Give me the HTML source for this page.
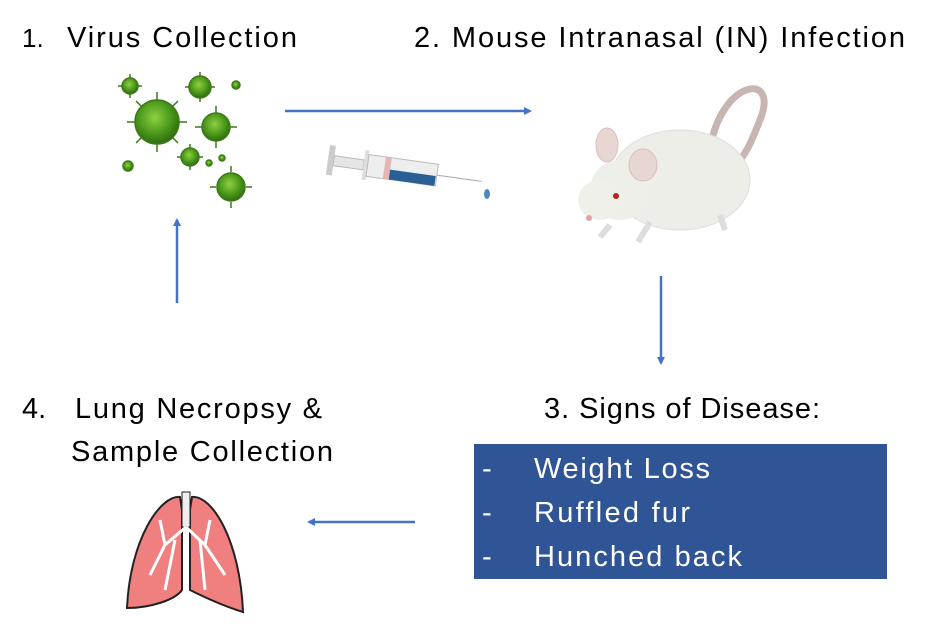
<!DOCTYPE html>
<html><head><style>
body{margin:0;background:#fff;}
svg{display:block;}
text{font-family:"Liberation Sans",sans-serif;}
</style></head><body>
<svg width="930" height="641" viewBox="0 0 930 641" xmlns="http://www.w3.org/2000/svg">
<defs>
<radialGradient id="vg" cx="0.45" cy="0.4" r="0.6"><stop offset="0" stop-color="#8fd040"/><stop offset="0.6" stop-color="#4c9a1c"/><stop offset="1" stop-color="#2f6d10"/></radialGradient>
<marker id="ah" markerWidth="8" markerHeight="8" refX="6" refY="4" orient="auto" markerUnits="userSpaceOnUse"><path d="M0,0 L8,4 L0,8 z" fill="#4472C4"/></marker>
</defs>
<text x="22" y="47" font-size="26" fill="#000">1.</text>
<text x="67" y="47" font-size="29" fill="#000" textLength="230" lengthAdjust="spacing">Virus Collection</text>
<text x="414" y="47" font-size="29" fill="#000" textLength="491" lengthAdjust="spacing">2. Mouse Intranasal (IN) Infection</text>
<text x="544" y="418" font-size="29" fill="#000" textLength="276" lengthAdjust="spacing">3. Signs of Disease:</text>
<text x="22" y="418" font-size="29" fill="#000">4.</text>
<text x="75" y="418" font-size="29" fill="#000" textLength="247" lengthAdjust="spacing">Lung Necropsy &amp;</text>
<text x="71" y="461" font-size="29" fill="#000" textLength="262" lengthAdjust="spacing">Sample Collection</text>

<!-- viruses -->
<g fill="url(#vg)" stroke="#3c7a16" stroke-width="1.5">
<circle cx="157" cy="122" r="22"/><circle cx="216" cy="127" r="14"/><circle cx="200" cy="87" r="11"/>
<circle cx="130" cy="86" r="8"/><circle cx="231" cy="187" r="14"/><circle cx="190" cy="157" r="9"/>
<circle cx="128" cy="166" r="5"/><circle cx="236" cy="85" r="4"/><circle cx="222" cy="158" r="3"/><circle cx="209" cy="163" r="3"/>
</g>
<g stroke="#3c7a16" stroke-width="1.5">
<path d="M157,92v8M157,144v8M127,122h8M179,122h8M136,101l6,6M172,137l6,6M178,101l-6,6M142,137l-6,6"/>
<path d="M216,106v7M216,141v7M195,127h7M230,127h7M231,172v-6M231,208v-6M210,187h6M246,187h6"/>
<path d="M200,72v4M200,98v4M185,87h4M211,87h4M130,74v4M130,94v4M118,86h4M138,86h4M190,144v4M190,166v4M177,157h4M199,157h4"/>
</g>

<!-- syringe -->
<g transform="translate(330,145) rotate(8)">
<rect x="0" y="0" width="6" height="30" fill="#ccc"/>
<rect x="6" y="10" width="30" height="10" fill="#e5e5e5" stroke="#bbb"/>
<rect x="36" y="0" width="4" height="30" fill="#ddd"/>
<rect x="40" y="4" width="70" height="22" fill="#eee" stroke="#bbb"/>
<rect x="57" y="4" width="6" height="22" fill="#e3b5b5"/>
<rect x="63" y="16" width="46" height="10" fill="#2a5f95"/>
<line x1="110" y1="15" x2="155" y2="15" stroke="#aaa"/>
</g>
<ellipse cx="487" cy="194" rx="3" ry="5" fill="#4a8ac4"/>

<!-- mouse -->
<g>
<path d="M710,150 C720,80 780,70 760,120 C752,140 748,150 740,160" fill="none" stroke="#c8b4b0" stroke-width="7"/>
<ellipse cx="680" cy="180" rx="70" ry="50" fill="#eeeee8" stroke="#ddd"/>
<ellipse cx="620" cy="190" rx="30" ry="30" fill="#efefea"/>
<ellipse cx="600" cy="200" rx="22" ry="20" fill="#f0f0ea"/>
<ellipse cx="607" cy="145" rx="11" ry="17" fill="#e8d6d2" stroke="#d8c0bc"/>
<ellipse cx="643" cy="165" rx="14" ry="16" fill="#e8d6d2" stroke="#d8c0bc"/>
<circle cx="616" cy="196" r="3" fill="#b22"/>
<circle cx="589" cy="218" r="3" fill="#e8a0a0"/>
<path d="M610,225 l-10,12 M650,222 l-12,20 M720,215 l5,15" stroke="#ddd" stroke-width="6"/>
</g>

<!-- arrows -->
<g stroke="#4472C4" stroke-width="2.5" fill="none">
<line x1="285" y1="111" x2="530" y2="111" marker-end="url(#ah)"/>
<line x1="177" y1="303" x2="177" y2="220" marker-end="url(#ah)"/>
<line x1="661" y1="276" x2="661" y2="363" marker-end="url(#ah)"/>
<line x1="415" y1="522" x2="309" y2="522" marker-end="url(#ah)"/>
</g>

<!-- box -->
<rect x="474" y="444" width="413" height="135" fill="#2F5597"/>
<g font-size="29" fill="#fff">
<text x="482" y="478">-</text><text x="534" y="478" textLength="176" lengthAdjust="spacing">Weight Loss</text>
<text x="482" y="522">-</text><text x="534" y="522" textLength="156" lengthAdjust="spacing">Ruffled fur</text>
<text x="482" y="566">-</text><text x="534" y="566" textLength="208" lengthAdjust="spacing">Hunched back</text>
</g>

<!-- lungs -->
<g stroke="#222" stroke-width="2" fill="#f08080">
<path d="M180,497 C160,495 130,540 127,608 C150,608 175,600 182,590 L182,510 Z"/>
<path d="M192,497 C212,495 240,540 243,612 C220,605 200,595 190,590 L190,510 Z"/>
</g>
<rect x="182" y="492" width="8" height="35" fill="#eee" stroke="#222"/>
<g stroke="#fff" stroke-width="3" fill="none">
<path d="M186,527 L165,545 L150,575 M165,545 L160,520 M175,540 L165,590"/>
<path d="M186,527 L205,545 L225,575 M205,545 L210,520 M200,540 L205,590"/>
</g>
</svg>
</body></html>
